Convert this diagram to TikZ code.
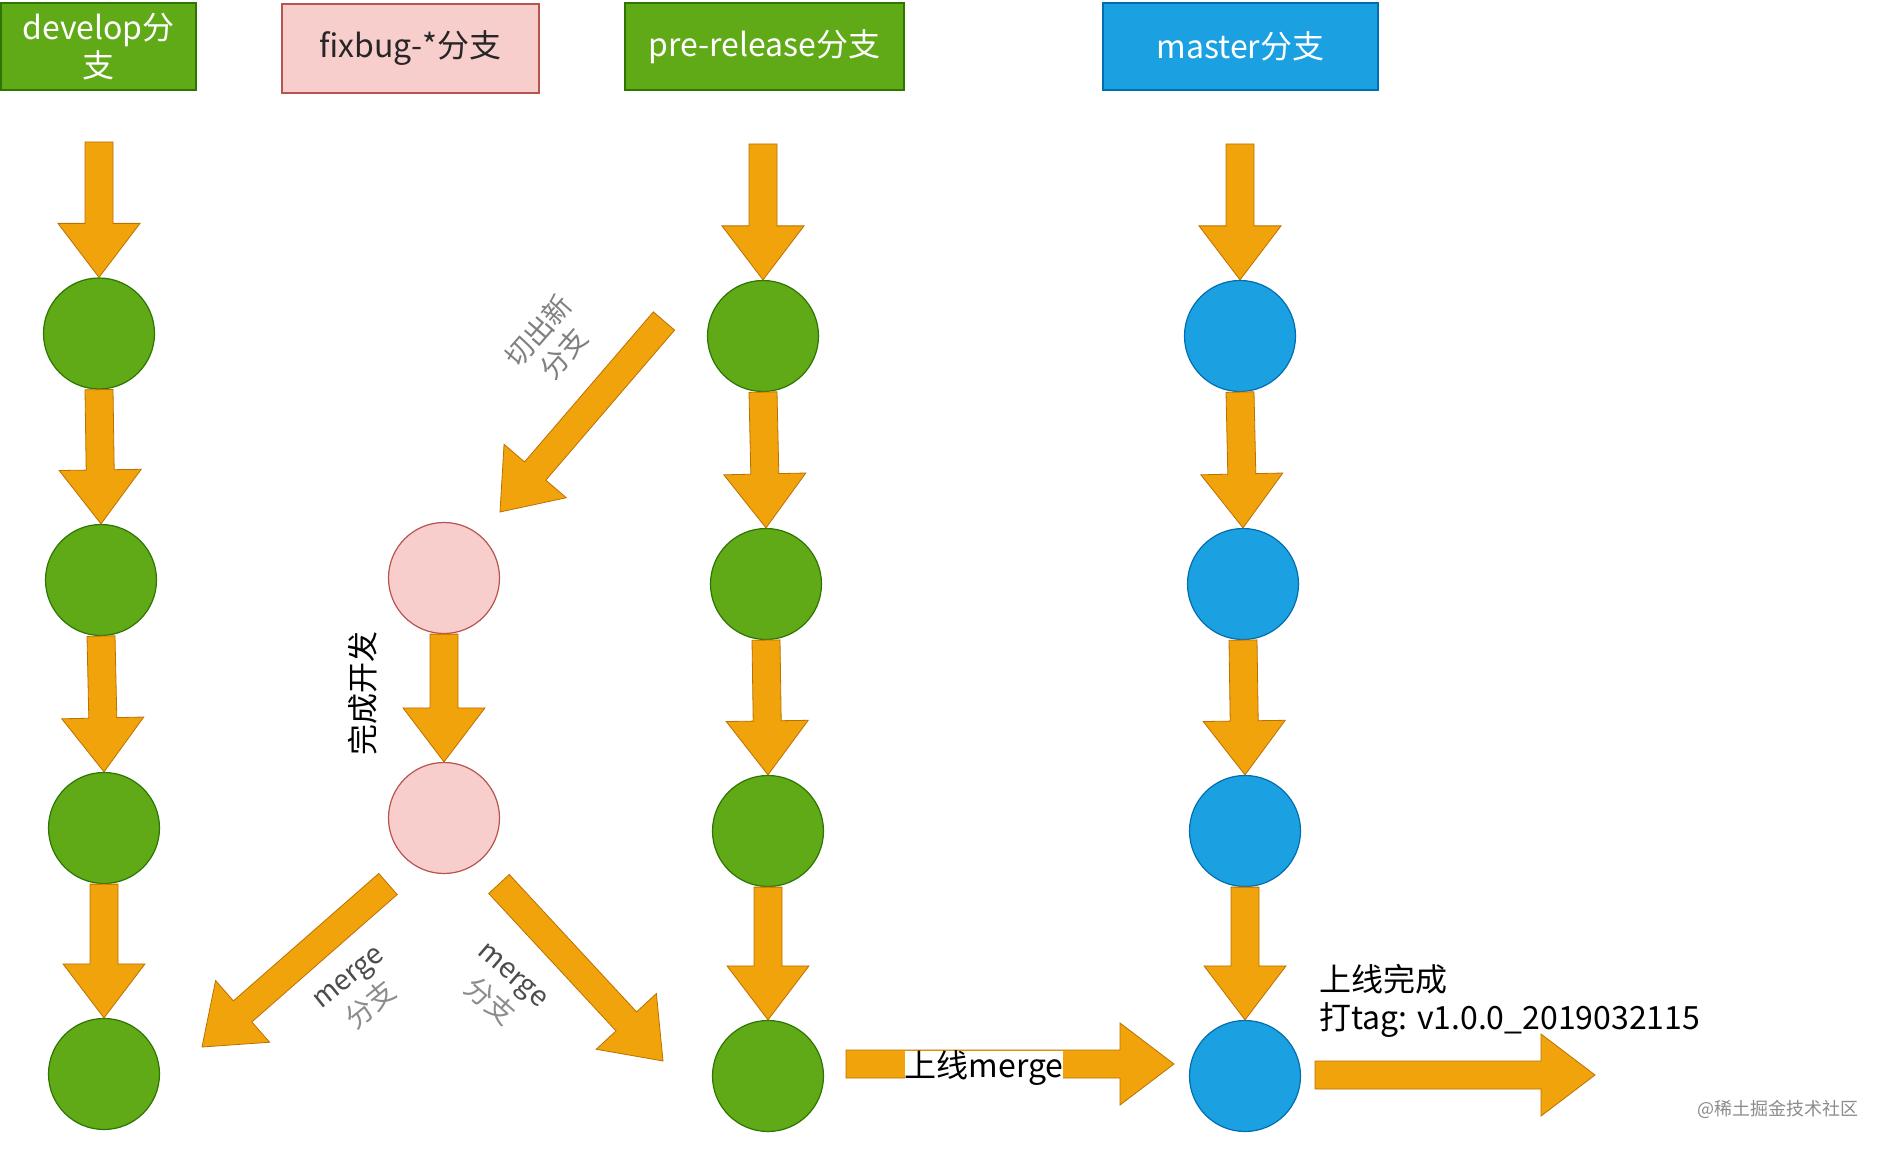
\documentclass[tikz,border=0pt]{standalone}
\usepackage{fontspec}
\setmainfont{Noto Sans CJK SC}
\usetikzlibrary{calc}
\definecolor{gfill}{HTML}{60A917}\definecolor{gline}{HTML}{2D7600}
\definecolor{pfill}{HTML}{F8CECC}\definecolor{pline}{HTML}{B85450}
\definecolor{bfill}{HTML}{1BA1E2}\definecolor{bline}{HTML}{006EAF}
\definecolor{ofill}{HTML}{F0A30A}\definecolor{oline}{HTML}{BD7000}
\newcommand\fashaft{14pt}
\newcommand\fawidth{41pt}
\newcommand\fahead{54pt}
\newcommand\fatarrow[2]{%
  \coordinate (fa-h) at ($(#2)!\fahead!(#1)$);
  \draw[fatarr] ($(#1)!\fashaft!90:(#2)$) -- ($(fa-h)!\fashaft!-90:(#1)$) --
    ($(fa-h)!\fawidth!-90:(#1)$) -- (#2) -- ($(fa-h)!\fawidth!90:(#1)$) --
    ($(fa-h)!\fashaft!90:(#1)$) -- ($(#1)!\fashaft!-90:(#2)$) -- cycle;}
\tikzset{
  fatarr/.style={fill=ofill, draw=oline, line width=0.8pt, line join=miter},
  hdr/.style={draw, line width=1.5pt, inner sep=0pt, align=center,
    font=\fontsize{32}{38}\selectfont},
  gcirc/.style={circle, minimum size=111pt, inner sep=0pt, line width=1.2pt, fill=gfill, draw=gline},
  pcirc/.style={circle, minimum size=111pt, inner sep=0pt, line width=1.2pt, fill=pfill, draw=pline},
  bcirc/.style={circle, minimum size=111pt, inner sep=0pt, line width=1.2pt, fill=bfill, draw=bline},
  lbl/.style={align=center, inner sep=0pt, font=\fontsize{28}{37}\selectfont},
  txt/.style={inner sep=1pt, font=\fontsize{32}{38}\selectfont},
}
\begin{document}
\begin{tikzpicture}[x=1pt, y=-1pt]
\path[use as bounding box, fill=white] (0,0) rectangle (1888,1150);
% headers
\node[hdr, fill=gfill, draw=gline, text=white, minimum width=195pt, minimum height=87pt] (hdev) at (98.5,46.5) {develop分\\支};
\node[hdr, fill=pfill, draw=pline, text=black!85, minimum width=257pt, minimum height=89pt] (hfix) at (410.5,48.5) {fixbug-*分支};
\node[hdr, fill=gfill, draw=gline, text=white, minimum width=279pt, minimum height=87pt] (hpre) at (764.5,46.5) {pre-release分支};
\node[hdr, fill=bfill, draw=bline, text=white, minimum width=275pt, minimum height=87pt] (hmas) at (1240.5,46.5) {master分支};
% circles
\node[gcirc] (d1) at (99,333.5) {};
\node[gcirc] (d2) at (101,580) {};
\node[gcirc] (d3) at (104,828) {};
\node[gcirc] (d4) at (104,1074) {};
\node[gcirc] (p1) at (763,336) {};
\node[gcirc] (p2) at (766,584) {};
\node[gcirc] (p3) at (768,831) {};
\node[gcirc] (p4) at (768,1076) {};
\node[bcirc] (m1) at (1240,336) {};
\node[bcirc] (m2) at (1243,584) {};
\node[bcirc] (m3) at (1245,831) {};
\node[bcirc] (m4) at (1245,1076) {};
\node[pcirc] (f1) at (444,578) {};
\node[pcirc] (f2) at (444,818) {};
% free ends
\coordinate (dt) at (99,142);
\coordinate (pt) at (763,144);
\coordinate (mt) at (1240,144);
\coordinate (cutA) at (664,321);
\coordinate (cutB) at (500,512);
\coordinate (mlA) at (388,884);
\coordinate (mlB) at (202,1047);
\coordinate (mrA) at (499,884);
\coordinate (mrB) at (663,1061);
\coordinate (onA) at (846,1064);
\coordinate (onB) at (1174,1064);
\coordinate (tgA) at (1315,1075);
\coordinate (tgB) at (1595,1075);
% arrows
\fatarrow{dt}{d1.north}
\fatarrow{d1.south}{d2.north}
\fatarrow{d2.south}{d3.north}
\fatarrow{d3.south}{d4.north}
\fatarrow{pt}{p1.north}
\fatarrow{p1.south}{p2.north}
\fatarrow{p2.south}{p3.north}
\fatarrow{p3.south}{p4.north}
\fatarrow{mt}{m1.north}
\fatarrow{m1.south}{m2.north}
\fatarrow{m2.south}{m3.north}
\fatarrow{m3.south}{m4.north}
\fatarrow{f1.south}{f2.north}
\fatarrow{cutA}{cutB}
\fatarrow{mlA}{mlB}
\fatarrow{mrA}{mrB}
\fatarrow{onA}{onB}
\fatarrow{tgA}{tgB}
% labels
\node[lbl, rotate=49, text=black!50, font=\fontsize{28}{34}\selectfont] (lcut) at (551,342) {切出新\\分支};
\node[lbl, rotate=90, text=black, font=\fontsize{31}{34}\selectfont] (ldev) at (363,693) {完成开发};
\node[lbl, rotate=39] (lml) at (361,993) {\textcolor{black!70}{merge}\\\textcolor{black!45}{分支}};
\node[lbl, rotate=-41] (lmr) at (500,990) {\textcolor{black!70}{merge}\\\textcolor{black!45}{分支}};
\node[txt, fill=white, inner sep=0pt] (lon) at (984,1068) {上线merge};
\node[txt, anchor=west, align=left] (ldone) at (1318,1001) {上线完成\\打tag: v1.0.0\_2019032115};
\node[text=black!45, inner sep=0pt, font=\fontsize{18}{20}\selectfont] (wm) at (1778,1109) {@稀土掘金技术社区};
\end{tikzpicture}
\end{document}
